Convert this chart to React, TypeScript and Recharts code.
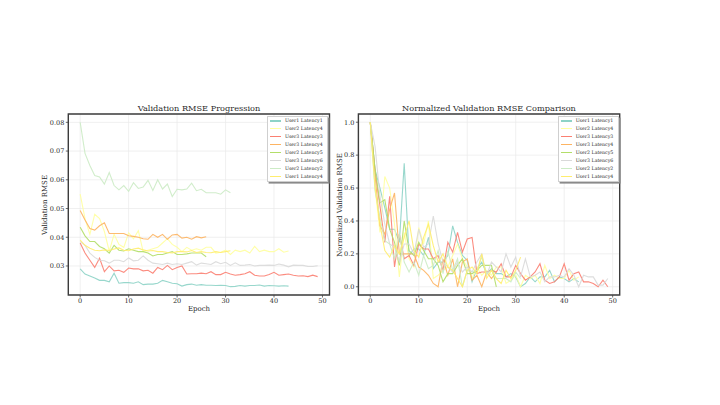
import React from 'react';
import { LineChart, Line, XAxis, YAxis, CartesianGrid, ReferenceArea, Legend } from 'recharts';

const seriesNames = [
  'User1 Latency1', 'User2 Latency4', 'User3 Latency3', 'User3 Latency4',
  'User2 Latency5', 'User3 Latency6', 'User2 Latency2', 'User1 Latency4',
];
const seriesColors = ['#8dd3c7', '#ffffa0', '#fb8072', '#fdb462', '#b3de69', '#d9d9d9', '#ccebc5', '#ffed6f'];

const epochTicks = [0, 10, 20, 30, 40, 50];
const rmseTicks = [0.03, 0.04, 0.05, 0.06, 0.07, 0.08];
const normTicks = [0, 0.2, 0.4, 0.6, 0.8, 1.0];

// Validation RMSE (absolute)
const rmseU1L1 = [0.029,0.0272,0.0265,0.0258,0.025,0.025,0.0245,0.0275,0.024,0.0242,0.0242,0.024,0.0245,0.0235,0.0237,0.0237,0.024,0.025,0.0245,0.024,0.0238,0.023,0.0235,0.0237,0.0233,0.0235,0.0233,0.0233,0.0232,0.0233,0.0232,0.0228,0.0229,0.0232,0.023,0.0232,0.0232,0.0234,0.023,0.0232,0.0231,0.023,0.0231,0.023];
const rmseU2L4 = [0.055,0.0465,0.041,0.048,0.0465,0.042,0.0352,0.041,0.0375,0.0365,0.0415,0.0395,0.0423,0.035,0.0355,0.036,0.0365,0.038,0.0395,0.0375,0.0365,0.035,0.0365,0.0355,0.036,0.0355,0.0365,0.0365,0.0345,0.0348,0.0355,0.034,0.0355,0.035,0.0355,0.0345,0.0368,0.035,0.0355,0.035,0.035,0.036,0.0348,0.0352];
const rmseU3L3 = [0.038,0.0345,0.032,0.0295,0.0327,0.028,0.030,0.0283,0.0285,0.0278,0.0293,0.029,0.029,0.0283,0.0285,0.0275,0.0295,0.0287,0.0302,0.0287,0.0295,0.030,0.0272,0.0273,0.0273,0.0275,0.0273,0.028,0.027,0.027,0.0278,0.0272,0.0268,0.027,0.0273,0.028,0.0268,0.0265,0.0265,0.027,0.0278,0.0268,0.027,0.0272,0.0268,0.0265,0.0266,0.0263,0.0268,0.0263];
const rmseU3L4 = [0.0493,0.046,0.043,0.0425,0.044,0.045,0.0413,0.0413,0.0413,0.0413,0.0405,0.0403,0.040,0.0395,0.0393,0.041,0.040,0.041,0.0393,0.0408,0.041,0.0397,0.040,0.0393,0.0402,0.0398,0.0402];
const rmseU2L5 = [0.0435,0.0405,0.0385,0.0385,0.0368,0.036,0.0345,0.0372,0.0355,0.0352,0.036,0.0355,0.035,0.035,0.0345,0.0335,0.034,0.034,0.0345,0.035,0.034,0.034,0.0342,0.0345,0.0345,0.0345,0.0332];
const rmseU3L6 = [0.0385,0.0372,0.0345,0.033,0.032,0.0318,0.031,0.032,0.032,0.0315,0.0328,0.0318,0.032,0.0335,0.032,0.031,0.0308,0.0305,0.031,0.0305,0.0308,0.0305,0.031,0.0315,0.0303,0.031,0.0308,0.0305,0.0315,0.0308,0.0313,0.0302,0.0311,0.0302,0.0303,0.0305,0.03,0.0302,0.0302,0.0303,0.0302,0.0307,0.0303,0.0297,0.0303,0.0302,0.0302,0.0298,0.0298,0.0301];
const rmseU2L2 = [0.080,0.0692,0.065,0.0615,0.061,0.0585,0.0625,0.058,0.0565,0.058,0.056,0.059,0.057,0.0575,0.0598,0.0563,0.060,0.0568,0.0585,0.0542,0.0567,0.0565,0.0568,0.0588,0.0562,0.0567,0.0555,0.0555,0.0555,0.055,0.0565,0.0555];
const rmseU1L4 = [0.039,0.0372,0.0362,0.0355,0.0353,0.0356,0.0354,0.0359,0.0363,0.0355,0.0353,0.0359,0.0362,0.0356,0.0352,0.0354,0.035,0.035,0.0347,0.0345,0.035,0.035,0.0349,0.0354,0.0347,0.035,0.0347,0.0346,0.035,0.0347,0.035,0.0353];

// Normalized validation RMSE
const normU1L1 = [1.0,0.71,0.6,0.48,0.35,0.35,0.27,0.75,0.19,0.23,0.23,0.19,0.3,0.11,0.15,0.15,0.19,0.37,0.27,0.19,0.16,0.03,0.11,0.15,0.08,0.11,0.08,0.08,0.06,0.08,0.06,0.0,0.02,0.06,0.03,0.06,0.06,0.1,0.03,0.06,0.05,0.03,0.05,0.03];
const normU2L4 = [1.0,0.6,0.33,0.67,0.6,0.38,0.06,0.33,0.17,0.12,0.36,0.26,0.4,0.05,0.07,0.1,0.12,0.19,0.26,0.17,0.12,0.05,0.12,0.07,0.1,0.07,0.12,0.12,0.02,0.04,0.07,0.0,0.07,0.05,0.07,0.02,0.13,0.05,0.07,0.05,0.05,0.1,0.04,0.06];
const normU3L3 = [1.0,0.7,0.49,0.27,0.55,0.12,0.32,0.17,0.19,0.13,0.26,0.23,0.23,0.17,0.19,0.1,0.27,0.21,0.33,0.21,0.29,0.3,0.08,0.09,0.09,0.1,0.09,0.14,0.06,0.06,0.13,0.08,0.04,0.06,0.09,0.14,0.04,0.02,0.03,0.06,0.14,0.04,0.08,0.09,0.03,0.03,0.02,0.0,0.04,0.0];
const normU3L4 = [1.0,0.67,0.37,0.32,0.47,0.57,0.2,0.2,0.2,0.2,0.12,0.1,0.07,0.02,0.0,0.17,0.07,0.17,0.0,0.15,0.17,0.04,0.07,0.0,0.09,0.05,0.09];
const normU2L5 = [1.0,0.71,0.51,0.53,0.35,0.27,0.13,0.4,0.22,0.19,0.27,0.22,0.17,0.17,0.13,0.03,0.08,0.08,0.13,0.17,0.08,0.08,0.1,0.13,0.13,0.13,0.0];
const normU3L6 = [1.0,0.85,0.55,0.38,0.26,0.24,0.15,0.26,0.26,0.2,0.35,0.24,0.26,0.43,0.26,0.15,0.12,0.09,0.15,0.09,0.12,0.09,0.15,0.2,0.07,0.15,0.12,0.09,0.2,0.12,0.18,0.06,0.17,0.06,0.07,0.09,0.03,0.06,0.06,0.07,0.06,0.11,0.07,0.0,0.07,0.06,0.06,0.01,0.01,0.05];
const normU2L2 = [1.0,0.58,0.42,0.28,0.26,0.17,0.32,0.15,0.09,0.15,0.07,0.19,0.11,0.13,0.22,0.08,0.22,0.1,0.17,0.0,0.1,0.09,0.1,0.18,0.08,0.1,0.05,0.05,0.05,0.03,0.09,0.05];
const normU1L4 = [1.0,0.6,0.38,0.22,0.18,0.25,0.2,0.3,0.4,0.22,0.18,0.3,0.38,0.25,0.15,0.2,0.12,0.1,0.05,0.0,0.1,0.12,0.08,0.2,0.05,0.1,0.05,0.02,0.1,0.05,0.1,0.18];

const rmseSeries = [rmseU1L1, rmseU2L4, rmseU3L3, rmseU3L4, rmseU2L5, rmseU3L6, rmseU2L2, rmseU1L4];
const normSeries = [normU1L1, normU2L4, normU3L3, normU3L4, normU2L5, normU3L6, normU2L2, normU1L4];

const toPoints = (arr: number[]) => arr.map((v, i) => ({ epoch: i, value: v }));

const FONT = '"DejaVu Serif", serif';
const TEXT = '#2a2a2a';
const X_DOMAIN: [number, number] = [-2.45, 51.45];

const LegendBox = () => (
  <div
    style={{
      background: '#ffffff',
      border: '0.8px solid #cfcfcf',
      boxShadow: '1.6px 1.6px 0 #8a8a8a',
      padding: '0.3px 2px 1.3px 2.3px',
      fontFamily: FONT,
      fontSize: 4.7,
      color: TEXT,
      width: 61,
      boxSizing: 'border-box',
      overflow: 'hidden',
    }}
  >
    {seriesNames.map((name, i) => (
      <div key={name} style={{ display: 'flex', alignItems: 'center', height: 7.9, whiteSpace: 'nowrap' }}>
        <div style={{ width: 10.7, height: 1.3, background: seriesColors[i], marginRight: 4, flex: 'none' }} />
        <span>{name}</span>
      </div>
    ))}
  </div>
);

type PanelProps = {
  left: number;
  width: number;
  marginLeft: number;
  marginRight: number;
  yWidth: number;
  yDomain: [number, number];
  yTicks: number[];
  yFmt: (v: number) => string;
  series: number[][];
  legendLeft: number;
};

const Panel = ({ left, width, marginLeft, marginRight, yWidth, yDomain, yTicks, yFmt, series, legendLeft }: PanelProps) => (
  <div style={{ position: 'absolute', left, top: 0, width, height: 320 }}>
    <LineChart width={width} height={320} margin={{ top: 114, right: marginRight, bottom: 5, left: marginLeft }}>
      <CartesianGrid stroke="#e9e9e9" strokeWidth={0.7} />
      <XAxis
        type="number"
        dataKey="epoch"
        domain={X_DOMAIN}
        ticks={epochTicks}
        allowDataOverflow
        height={20}
        tickSize={2.5}
        tickMargin={1}
        axisLine={false}
        tickLine={{ stroke: '#444', strokeWidth: 0.8 }}
        tick={{ fontSize: 6.5, fontFamily: FONT, fill: TEXT }}
      />
      <YAxis
        type="number"
        dataKey="value"
        domain={yDomain}
        ticks={yTicks}
        allowDataOverflow
        width={yWidth}
        tickSize={2.5}
        tickMargin={1.5}
        axisLine={false}
        tickLine={{ stroke: '#444', strokeWidth: 0.8 }}
        tickFormatter={yFmt}
        tick={{ fontSize: 6.5, fontFamily: FONT, fill: TEXT }}
      />
      {series.map((arr, i) => (
        <Line
          key={seriesNames[i]}
          data={toPoints(arr)}
          dataKey="value"
          name={seriesNames[i]}
          type="linear"
          stroke={seriesColors[i]}
          strokeWidth={1.1}
          strokeOpacity={0.9}
          dot={false}
          activeDot={false}
          isAnimationActive={false}
        />
      ))}
      <ReferenceArea
        x1={X_DOMAIN[0]}
        x2={X_DOMAIN[1]}
        y1={yDomain[0]}
        y2={yDomain[1]}
        fill="none"
        stroke="#3c3c3c"
        strokeWidth={1.4}
        ifOverflow="visible"
      />
      <Legend
        layout="horizontal"
        verticalAlign="middle"
        align="center"
        content={() => <LegendBox />}
        wrapperStyle={{ position: 'absolute', left: legendLeft, top: 115.7, width: 61, height: 66 }}
      />
    </LineChart>
  </div>
);

const textStyle: React.CSSProperties = {
  position: 'absolute',
  fontFamily: FONT,
  color: TEXT,
  whiteSpace: 'nowrap',
  lineHeight: 1,
};

export default function App() {
  return (
    <div style={{ position: 'absolute', left: 0, top: 0, width: 720, height: 405, background: '#ffffff', overflow: 'hidden' }}>
      <Panel
        left={0}
        width={350}
        marginLeft={38.3}
        marginRight={20.5}
        yWidth={30}
        yDomain={[0.0199, 0.0829]}
        yTicks={rmseTicks}
        yFmt={(v) => v.toFixed(2)}
        series={rmseSeries}
        legendLeft={267}
      />
      <Panel
        left={330}
        width={310}
        marginLeft={3.4}
        marginRight={20.3}
        yWidth={25}
        yDomain={[-0.05, 1.05]}
        yTicks={normTicks}
        yFmt={(v) => v.toFixed(1)}
        series={normSeries}
        legendLeft={227.7}
      />
      {/* Titles */}
      <div style={{ ...textStyle, left: 199, top: 103.5, fontSize: 8.2, transform: 'translateX(-50%)' }}>Validation RMSE Progression</div>
      <div style={{ ...textStyle, left: 489, top: 103.5, fontSize: 8.2, transform: 'translateX(-50%)' }}>Normalized Validation RMSE Comparison</div>
      {/* X labels */}
      <div style={{ ...textStyle, left: 199, top: 305.5, fontSize: 7, transform: 'translateX(-50%)' }}>Epoch</div>
      <div style={{ ...textStyle, left: 489, top: 305.5, fontSize: 7, transform: 'translateX(-50%)' }}>Epoch</div>
      {/* Y labels */}
      <div style={{ ...textStyle, left: 45, top: 205, fontSize: 7, transform: 'translate(-50%, -50%) rotate(-90deg)' }}>Validation RMSE</div>
      <div style={{ ...textStyle, left: 340, top: 205, fontSize: 7, transform: 'translate(-50%, -50%) rotate(-90deg)' }}>Normalized Validation RMSE</div>
    </div>
  );
}
